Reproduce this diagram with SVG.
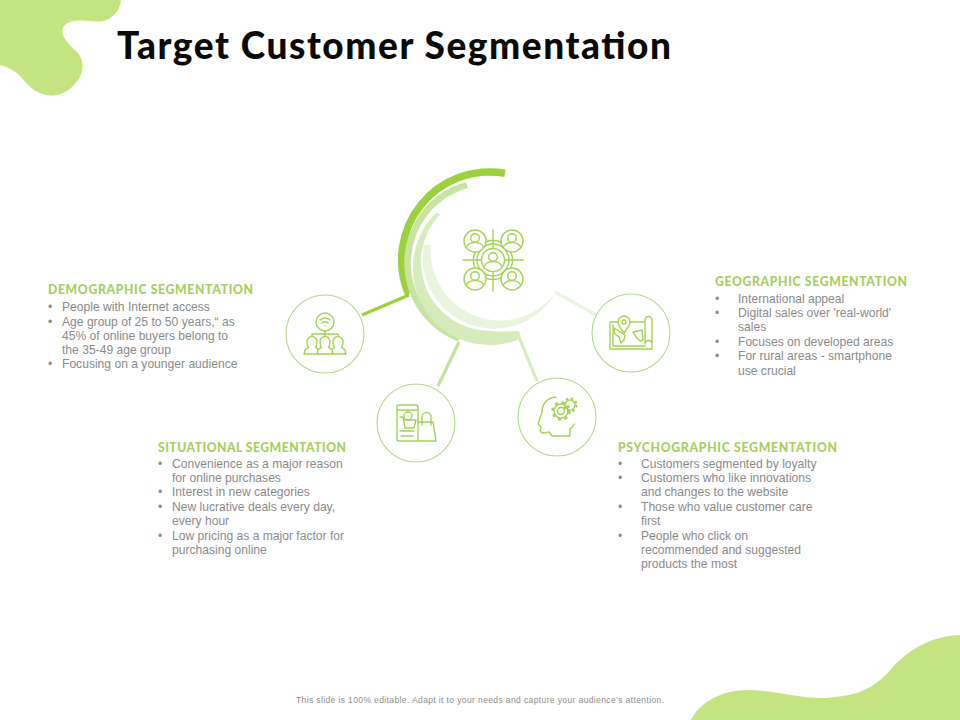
<svg xmlns="http://www.w3.org/2000/svg" width="960" height="720" viewBox="0 0 960 720">
<style>
.h{font-family:"Lato","Liberation Sans",sans-serif;font-weight:900;font-size:12.2px;fill:#a6cf60}
.b{font-family:"Liberation Sans",Arial,sans-serif;font-size:12.1px;fill:#8a8a8a}
.i{fill:none;stroke:#a3d356;stroke-width:1.4;stroke-linejoin:round;stroke-linecap:round}
.c{fill:#fff;stroke:#b5d98a;stroke-width:1.1}
.r{fill:none}
</style>
<defs>
<g id="person"><circle cx="0" cy="-3" r="4.300"/><path d="M-8.500,6C-7,1.800 -3.500,1.600 0,1.600C3.500,1.600 7,1.800 8.500,6"/></g>
<g id="bust"><path d="M-7.500,12V9.500C-7.500,7 -5,6.300 -3.500,5.500C-5,3.500 -5,1 -5,-.5A5,5 0 0 1 5,-.5C5,1 5,3.500 3.500,5.500C5,6.300 7.500,7 7.500,9.500V12" fill="#fff"/></g>
</defs>
<rect width="960" height="720" fill="#fff"/>
<path id="blob-top" d="M0,0H121C120,12 110,22 98,21.500C86,21 72,18 65,25C58,32 66,42 75,50C84,58 85,70 78,80C70,92 58,97 46,95C32,92 26,82 18,74C12,69 5,66 0,65Z" fill="#c4e381"/>
<path id="blob-bottom" d="M691,720C700,702 722,690 748,690C775,690 800,699 826,698C852,696 872,692 892,668C912,646 935,636 960,635V720Z" fill="#c4e381"/>
<text x="117" y="59" font-family="Lato,'Liberation Sans',sans-serif" font-weight="900" font-size="37" fill="#0a0a0a" textLength="554" lengthAdjust="spacing">Target Customer Segmentation</text>

<g id="connectors" fill="none">
<path d="M362,315L409,295" stroke="#9bd13a" stroke-width="3"/>
<path d="M438,386L459,342" stroke="#c5e29c" stroke-width="3.200"/>
<path d="M537,381L519,337" stroke="#d6ecbd" stroke-width="3.200"/>
<path d="M598,316L555,292" stroke="#e8f4dc" stroke-width="3.200"/>
</g>

<g id="hub">
<path class="r" d="M505,173.300A88,88 0 0 0 408.500,294" stroke="#9bd13a" stroke-width="7.500"/>
<path d="M466,182A84,84 0 0 0 458,341.400L461,336A78,78 0 0 1 468,188Z" fill="#c8e4a2"/>
<path d="M436,213A77,77 0 0 0 521,338.500L519,331Q505,332 490,331A69,69 0 0 1 440,214.400Z" fill="#d6ebbc"/>
<path d="M424,245A71,71 0 0 0 556,292A69.300,69.300 0 0 1 431,245Z" fill="#e8f4dc"/>
<g id="hub-icon" class="i">
<path d="M493,230V248M493,272V291M463,260H481M505,260H523"/>
<circle cx="493" cy="260" r="11.500"/><circle cx="493" cy="260" r="19.500"/><circle cx="493" cy="260" r="16"/>
<circle cx="475" cy="241" r="11" fill="#fff"/><circle cx="512" cy="241" r="11" fill="#fff"/><circle cx="475" cy="279" r="11" fill="#fff"/><circle cx="512" cy="279" r="11" fill="#fff"/>
<use href="#person" x="475" y="241"/><use href="#person" x="512" y="241"/><use href="#person" x="475" y="279"/><use href="#person" x="512" y="279"/><use href="#person" x="493" y="260"/>
</g>
</g>

<g id="node-demographic">
<circle class="c" cx="325" cy="334" r="39"/>
<g class="i">
<circle cx="325" cy="322" r="9"/>
<path d="M320,320Q325,316 330,320M322,323Q325,320.500 328,323M325,326h0M325,331V338M312,338V334H338V338"/>
<use href="#bust" x="312" y="342"/><use href="#bust" x="338" y="342"/><use href="#bust" x="325" y="342"/>
<path d="M304,354H346"/>
</g>
<text class="h" x="48" y="294" textLength="205">DEMOGRAPHIC  SEGMENTATION</text>
<text class="b"><tspan x="48" y="311">•</tspan><tspan x="62" y="311">People with Internet access</tspan><tspan x="48" y="326">•</tspan><tspan x="62" y="326">Age group of 25 to 50 years,“ as</tspan><tspan x="62" y="340">45% of online buyers belong to</tspan><tspan x="62" y="354">the 35-49 age group</tspan><tspan x="48" y="368">•</tspan><tspan x="62" y="368">Focusing on a younger audience</tspan></text>
</g>

<g id="node-situational">
<circle class="c" cx="416" cy="423" r="39"/>
<g class="i">
<rect x="397" y="405" width="21" height="36" rx="2"/><path d="M397,410H418M401,436H413"/>
<path d="M400,417H403L405,428H414L416,420H404M400,431H414"/><circle cx="408" cy="416" r="4"/>
<path d="M418,422H433L436,441H418"/><path d="M422,425V417A4.500,4.500 0 0 1 431,417V425"/>
</g>
<text class="h" x="158" y="452" textLength="188">SITUATIONAL  SEGMENTATION</text>
<text class="b"><tspan x="158" y="468">•</tspan><tspan x="172" y="468">Convenience as a major reason</tspan><tspan x="172" y="482">for online purchases</tspan><tspan x="158" y="496">•</tspan><tspan x="172" y="496">Interest in new categories</tspan><tspan x="158" y="511">•</tspan><tspan x="172" y="511">New lucrative deals every day,</tspan><tspan x="172" y="525">every hour</tspan><tspan x="158" y="540">•</tspan><tspan x="172" y="540">Low pricing as a major factor for</tspan><tspan x="172" y="554">purchasing online</tspan></text>
</g>

<g id="node-psychographic">
<circle class="c" cx="557" cy="417" r="39"/>
<g class="i">
<path d="M570,435V429C572,428 573,426 574,424M556,397C546,398 542,405 542,412L538,424L541,427L540,431C542,434 546,433 549,432L552,436H570"/>
<circle cx="561" cy="411" r="3.500"/><circle cx="561" cy="411" r="7"/>
<circle cx="561" cy="411" r="8.500" stroke-width="2.500" stroke-dasharray="3 3.700" stroke-linecap="butt"/>
<circle cx="570" cy="405" r="5"/>
<circle cx="570" cy="405" r="6.500" stroke-width="2" stroke-dasharray="2.500 2.600" stroke-linecap="butt"/>
</g>
<text class="h" x="618" y="452" textLength="219">PSYCHOGRAPHIC  SEGMENTATION</text>
<text class="b"><tspan x="618" y="468">•</tspan><tspan x="641" y="468">Customers segmented by loyalty</tspan><tspan x="618" y="482">•</tspan><tspan x="641" y="482">Customers who like innovations</tspan><tspan x="641" y="496">and changes to the website</tspan><tspan x="618" y="511">•</tspan><tspan x="641" y="511">Those who value customer care</tspan><tspan x="641" y="525">first</tspan><tspan x="618" y="540">•</tspan><tspan x="641" y="540">People who click on</tspan><tspan x="641" y="554">recommended and suggested</tspan><tspan x="641" y="568">products the most</tspan></text>
</g>

<g id="node-geographic">
<circle class="c" cx="631" cy="333" r="39"/>
<g class="i">
<path d="M618,322H610V349H652V320A3.500,3.500 0 0 0 645,320V344A3.500,3.500 0 0 1 652,344M630,322H645M613,325V346H645"/>
<path d="M624,333C620,327 618,325 618,322A6,6 0 0 1 630,322C630,325 628,327 624,333Z"/><circle cx="624" cy="322" r="2"/>
<path d="M614,328L619,331L625,335L624,340L621,343L619,337L615,334ZM633,332L642,330L643,340L640,341L636,337Z"/>
</g>
<text class="h" x="715" y="286" textLength="192">GEOGRAPHIC SEGMENTATION</text>
<text class="b"><tspan x="715" y="303">•</tspan><tspan x="738" y="303">International appeal</tspan><tspan x="715" y="317">•</tspan><tspan x="738" y="317">Digital sales over 'real-world'</tspan><tspan x="738" y="331">sales</tspan><tspan x="715" y="346">•</tspan><tspan x="738" y="346">Focuses on developed areas</tspan><tspan x="715" y="360">•</tspan><tspan x="738" y="360">For rural areas - smartphone</tspan><tspan x="738" y="375">use crucial</tspan></text>
</g>
<text x="480" y="703" text-anchor="middle" font-family="'Liberation Sans',Arial,sans-serif" font-size="8.500" fill="#8c8c8c" textLength="368">This slide is 100% editable. Adapt it to your needs and capture your audience’s attention.</text>
</svg>
